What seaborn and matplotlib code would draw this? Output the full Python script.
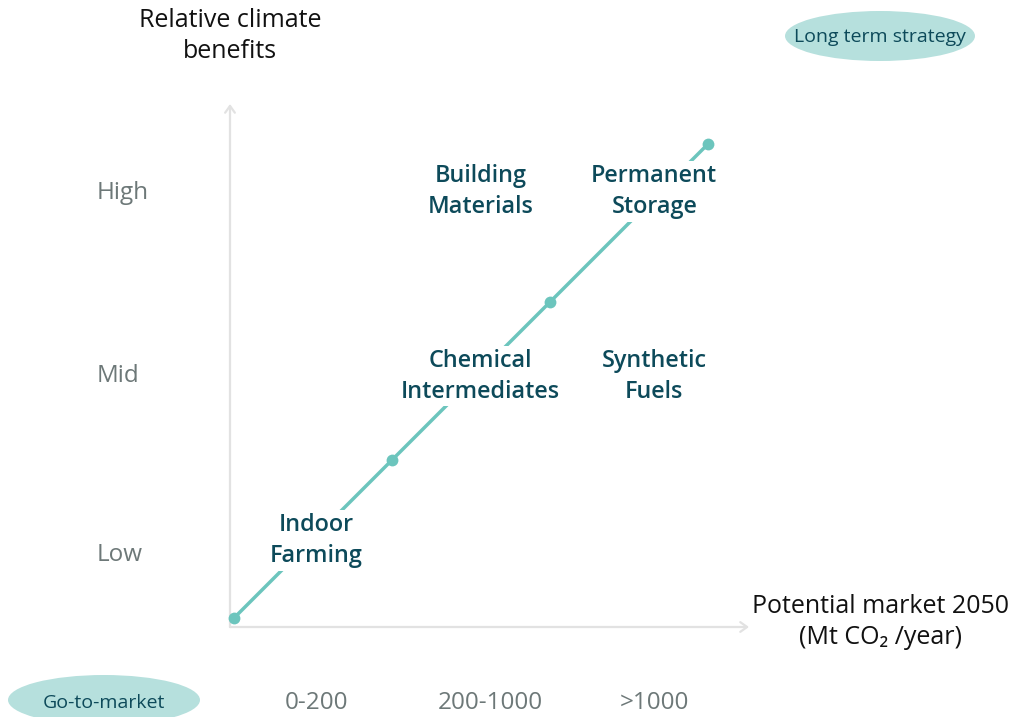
import matplotlib
matplotlib.use("Agg")
import matplotlib.pyplot as plt
from matplotlib.patches import Ellipse, FancyArrowPatch
import seaborn as sns
import pandas as pd

# ---- data ----
market_levels = ["0-200", "200-1000", ">1000"]
benefit_levels = ["Low", "Mid", "High"]
market_pos = [0.52, 1.62, 2.66]          # position of each market category on the x scale
benefit_pos = [0.40, 1.53, 2.69]         # position of each benefit category on the y scale
path_x = [0, 1, 2, 3]
path_y = [0, 1, 2, 3]
app_names = ["Indoor\nFarming", "Chemical\nIntermediates", "Synthetic\nFuels",
             "Building\nMaterials", "Permanent\nStorage"]
app_x = [0.52, 1.56, 2.66, 1.56, 2.66]
app_y = [0.49, 1.53, 1.53, 2.70, 2.70]

sns.set_theme(style="white")
plt.rcParams["font.family"] = ["Open Sans", "DejaVu Sans"]

TEAL = "#6cc5bd"
DARK = "#0d4a5a"
GREY = "#6d7878"
AXIS = "#e2e2e2"
FILL = "#b6e0dd"

W, H = 1013, 717
fig = plt.figure(figsize=(W / 100, H / 100), dpi=100)
ax = fig.add_axes([0, 0, 1, 1])

df = pd.DataFrame({"x": path_x, "y": path_y})
sns.lineplot(data=df, x="x", y="y", ax=ax, color=TEAL, linewidth=2.5, marker="o",
             markersize=8.5, markeredgewidth=0, legend=False, zorder=3)
# pixel-aligned data frame: origin point at (234,618), step 158 px
ax.set_xlim((0 - 234) / 158, (W - 234) / 158)
ax.set_ylim((618 - H) / 158, (618 - 0) / 158)
ax.axis("off")

# axes with arrows
x0, y0 = (230 - 234) / 158, (618 - 627) / 158
for end in [(x0, (618 - 104) / 158), ((749 - 234) / 158, y0)]:
    ax.add_patch(FancyArrowPatch((x0, y0), end, arrowstyle="->,head_length=0.35,head_width=0.25",
                                 color=AXIS, lw=1.6, mutation_scale=14, shrinkA=0, shrinkB=0, zorder=1))

for name, x, y in zip(app_names, app_x, app_y):
    ax.text(x, y, name, ha="center", va="center", color=DARK, fontsize=16.8,
            fontweight="semibold", linespacing=1.38, zorder=4,
            bbox=dict(boxstyle="square,pad=0.12", fc="white", ec="none"))

for lab, y in zip(benefit_levels, benefit_pos):
    ax.text((97 - 234) / 158, y, lab, ha="left", va="center", color=GREY, fontsize=17.5)

for lab, x in zip(market_levels, market_pos):
    ax.text(x, (618 - 703) / 158, lab, ha="center", va="center", color=GREY, fontsize=17.5)

# axis titles
fig.text(230 / W, 1 - 36 / H, "Relative climate\nbenefits", ha="center", va="center",
         fontsize=18, color="#111111", linespacing=1.3)
fig.text(880 / W, 1 - 622 / H, "Potential market 2050\n(Mt CO\u2082 /year)", ha="center", va="center",
         fontsize=18, color="#111111", linespacing=1.3)

# badges
fig.patches.append(Ellipse((880 / W, 1 - 36 / H), 190 / W, 50 / H, transform=fig.transFigure,
                           fc=FILL, ec="none", zorder=0))
fig.text(880 / W, 1 - 37 / H, "Long term strategy", ha="center", va="center", fontsize=14, color=DARK)
fig.patches.append(Ellipse((104 / W, 1 - 700 / H), 192 / W, 50 / H, transform=fig.transFigure,
                           fc=FILL, ec="none", zorder=0))
fig.text(104 / W, 1 - 703 / H, "Go-to-market", ha="center", va="center", fontsize=14, color=DARK)

fig.savefig("out.png", dpi=100, facecolor="white")
